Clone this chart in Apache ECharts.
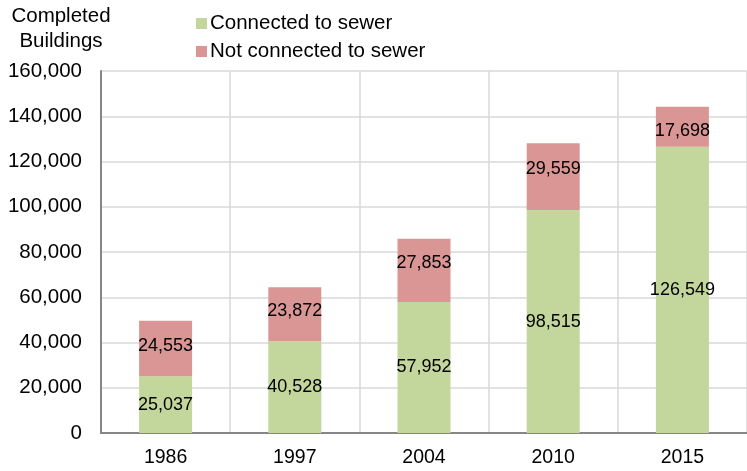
<!DOCTYPE html>
<html><head><meta charset="utf-8">
<script src="https://cdn.jsdelivr.net/npm/echarts@6/dist/echarts.min.js"></script>
<style>html,body{margin:0;padding:0;background:#fff}#c{width:747px;height:471px}</style>
</head><body><div id="c"></div>
<script>
const categories = ['1986', '1997', '2004', '2010', '2015'];
const connected = [25037, 40528, 57952, 98515, 126549];
const notConnected = [24553, 23872, 27853, 29559, 17698];
const notConnectedLabelShift = [-3, -3, -7, -8, 4];
const seriesNames = ['Connected to sewer', 'Not connected to sewer'];
const axisTitle = 'Completed\nBuildings';

const FONT = '"Liberation Sans", Arial, sans-serif';
const chart = echarts.init(document.getElementById('c'));
const fmt = v => v.toLocaleString('en-US');
const labelCfg = {
  show: true, position: 'inside', color: '#000', fontFamily: FONT, fontSize: 18,
  formatter: p => fmt(p.value)
};
chart.setOption({
  animation: false,
  textStyle: { fontFamily: FONT },
  graphic: [{
    type: 'text', x: 61, y: 4,
    style: { text: axisTitle, font: '20.5px ' + FONT, fill: '#000', align: 'center', verticalAlign: 'top', lineHeight: 25 }
  }],
  legend: {
    orient: 'vertical', left: 191, top: 8, itemWidth: 11, itemHeight: 11, itemGap: 7,
    icon: 'rect',
    textStyle: { fontFamily: FONT, fontSize: 20.5, color: '#000', padding: [0, 0, 0, -2] },
    data: seriesNames
  },
  grid: { left: 101, right: -9, top: 71, bottom: 38, containLabel: false },
  xAxis: {
    type: 'category', data: categories,
    axisLine: { lineStyle: { color: '#868686', width: 2 } },
    axisTick: { show: false },
    axisLabel: { color: '#000', fontSize: 19.5, fontFamily: FONT, margin: 15 },
    splitLine: { show: true, lineStyle: { color: '#d9d9d9', width: 1.5 } }
  },
  yAxis: {
    type: 'value', min: 0, max: 160000, interval: 20000,
    axisLine: { show: true, lineStyle: { color: '#868686', width: 2 } },
    axisTick: { show: false },
    axisLabel: { color: '#000', fontSize: 20.5, fontFamily: FONT, margin: 19, formatter: v => fmt(v) },
    splitLine: { show: true, lineStyle: { color: '#d9d9d9', width: 1.5 } }
  },
  series: [
    { name: seriesNames[0], type: 'bar', stack: 's', data: connected, barWidth: 53,
      itemStyle: { color: '#C3D69B' }, label: labelCfg },
    { name: seriesNames[1], type: 'bar', stack: 's', barWidth: 53,
      data: notConnected.map((v, i) => ({ value: v, label: { offset: [0, notConnectedLabelShift[i]] } })),
      itemStyle: { color: '#D99694' }, label: labelCfg }
  ]
});
</script></body></html>
